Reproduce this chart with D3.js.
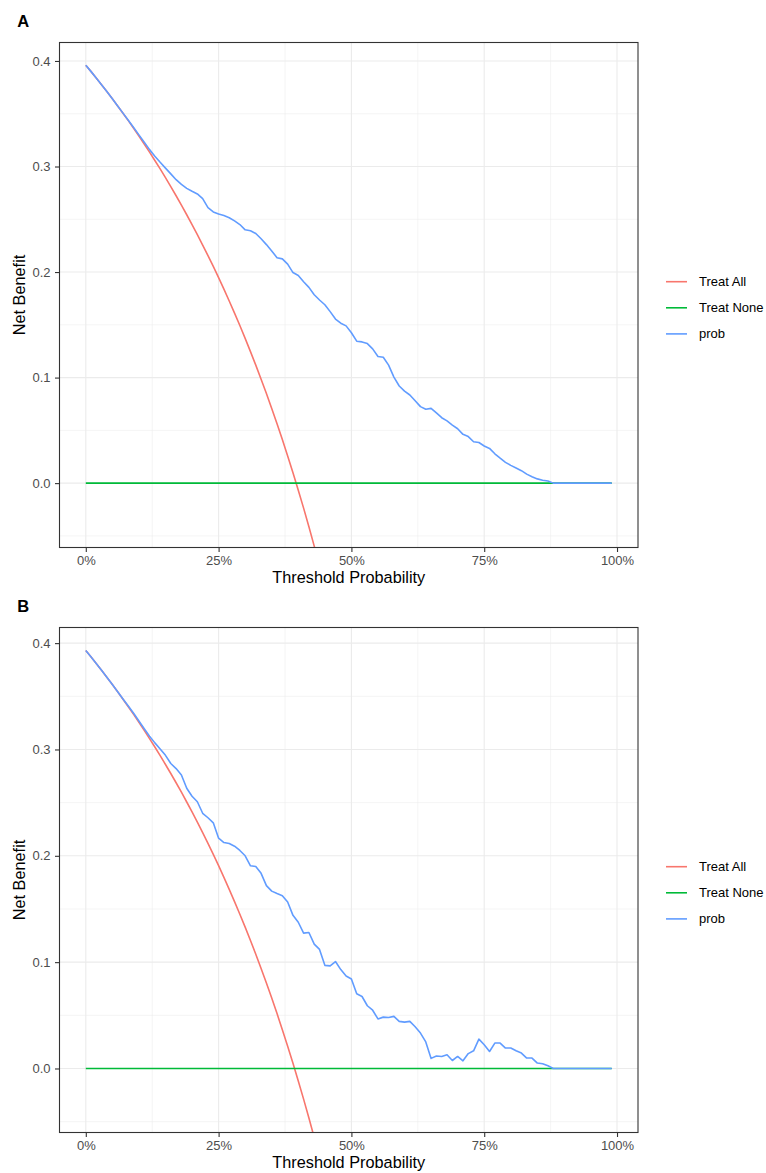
<!DOCTYPE html>
<html>
<head>
<meta charset="utf-8">
<script src="https://cdn.jsdelivr.net/npm/d3@7"></script>
<style>
  html, body { margin: 0; padding: 0; background: #ffffff; }
  svg { display: block; font-family: "Liberation Sans", Arial, Helvetica, sans-serif; }
</style>
</head>
<body>
<svg id="chart" width="766" height="1173"></svg>
<script>
// ---------------- data ----------------
const thresholds = [
  0.00,0.01,0.02,0.03,0.04,0.05,0.06,0.07,0.08,0.09,
  0.10,0.11,0.12,0.13,0.14,0.15,0.16,0.17,0.18,0.19,
  0.20,0.21,0.22,0.23,0.24,0.25,0.26,0.27,0.28,0.29,
  0.30,0.31,0.32,0.33,0.34,0.35,0.36,0.37,0.38,0.39,
  0.40,0.41,0.42,0.43,0.44,0.45,0.46,0.47,0.48,0.49,
  0.50,0.51,0.52,0.53,0.54,0.55,0.56,0.57,0.58,0.59,
  0.60,0.61,0.62,0.63,0.64,0.65,0.66,0.67,0.68,0.69,
  0.70,0.71,0.72,0.73,0.74,0.75,0.76,0.77,0.78,0.79,
  0.80,0.81,0.82,0.83,0.84,0.85,0.86,0.87,0.88,0.89,
  0.90,0.91,0.92,0.93,0.94,0.95,0.96,0.97,0.98,0.99
];

// Panel A
const treatAllA = [
  0.3960,0.3899,0.3837,0.3773,0.3708,0.3642,0.3574,0.3505,0.3435,0.3363,
  0.3289,0.3213,0.3136,0.3057,0.2977,0.2894,0.2810,0.2723,0.2634,0.2543,
  0.2450,0.2354,0.2256,0.2156,0.2053,0.1947,0.1838,0.1726,0.1611,0.1493,
  0.1371,0.1246,0.1118,0.0985,0.0849,0.0708,0.0563,0.0413,0.0258,0.0098,
  -0.0067,-0.0237,-0.0414,-0.0597,-0.0786,-0.0982
];
const probA = [
  0.3960,0.3899,0.3837,0.3773,0.3708,0.3642,0.3574,0.3506,0.3438,0.3370,
  0.3300,0.3230,0.3160,0.3098,0.3040,0.2985,0.2930,0.2875,0.2830,0.2793,
  0.2765,0.2740,0.2695,0.2610,0.2570,0.2550,0.2535,0.2515,0.2485,0.2450,
  0.2400,0.2392,0.2365,0.2315,0.2260,0.2200,0.2136,0.2125,0.2075,0.1995,
  0.1968,0.1908,0.1855,0.1785,0.1735,0.1690,0.1625,0.1555,0.1515,0.1490,
  0.1425,0.1345,0.1338,0.1322,0.1272,0.1200,0.1192,0.1118,0.1005,0.0920,
  0.0872,0.0835,0.0780,0.0725,0.0700,0.0708,0.0665,0.0620,0.0590,0.0550,
  0.0515,0.0462,0.0441,0.0392,0.0385,0.0352,0.0329,0.0278,0.0236,0.0197,
  0.0168,0.0143,0.0118,0.0085,0.0060,0.0040,0.0028,0.0020,0.0000,0.0000,
  0.0000,0.0000,0.0000,0.0000,0.0000,0.0000,0.0000,0.0000,0.0000,0.0000
];

// Panel B
const treatAllB = [
  0.3930,0.3869,0.3806,0.3742,0.3677,0.3611,0.3543,0.3473,0.3402,0.3330,
  0.3256,0.3180,0.3102,0.3023,0.2942,0.2859,0.2774,0.2687,0.2598,0.2506,
  0.2413,0.2317,0.2218,0.2117,0.2013,0.1907,0.1797,0.1685,0.1569,0.1451,
  0.1329,0.1203,0.1074,0.0940,0.0803,0.0662,0.0516,0.0365,0.0210,0.0049,
  -0.0117,-0.0288,-0.0466,-0.0649,-0.0839,-0.1036
];
const probB = [
  0.3930,0.3869,0.3806,0.3742,0.3677,0.3611,0.3543,0.3475,0.3408,0.3340,
  0.3268,0.3195,0.3125,0.3062,0.3005,0.2945,0.2868,0.2820,0.2760,0.2635,
  0.2560,0.2508,0.2400,0.2358,0.2310,0.2166,0.2125,0.2115,0.2090,0.2050,
  0.2000,0.1906,0.1900,0.1835,0.1720,0.1668,0.1645,0.1625,0.1565,0.1440,
  0.1375,0.1273,0.1279,0.1170,0.1120,0.0970,0.0965,0.1006,0.0930,0.0870,
  0.0842,0.0702,0.0677,0.0590,0.0548,0.0466,0.0483,0.0480,0.0490,0.0443,
  0.0436,0.0443,0.0392,0.0333,0.0250,0.0095,0.0118,0.0113,0.0129,0.0075,
  0.0113,0.0072,0.0140,0.0166,0.0276,0.0223,0.0160,0.0239,0.0239,0.0192,
  0.0192,0.0166,0.0145,0.0098,0.0098,0.0051,0.0044,0.0025,0.0000,0.0000,
  0.0000,0.0000,0.0000,0.0000,0.0000,0.0000,0.0000,0.0000,0.0000,0.0000
];

// Treat None (net benefit 0 across the threshold range)
const treatNoneX = [0.00, 0.99];
const treatNoneY = [0.0, 0.0];

const seriesNames = ["Treat All", "Treat None", "prob"];
const seriesColors = ["#F8766D", "#00BA38", "#619CFF"];
const xTicks = [0, 0.25, 0.5, 0.75, 1];
const xMinor = [0.125, 0.375, 0.625, 0.875];
const yTicks = [0.0, 0.1, 0.2, 0.3, 0.4];
const yMinor = [-0.05, 0.05, 0.15, 0.25, 0.35];
const xTitle = "Threshold Probability";
const yTitle = "Net Benefit";

// ---------------- drawing ----------------
const svg = d3.select("#chart");
const left = 59.5, right = 638;

function drawPanel(cfg) {
  const { label, top, bottom, yDomain, treatAll, prob, id } = cfg;
  const x = d3.scaleLinear().domain([-0.0495, 1.0395]).range([left, right]);
  const y = d3.scaleLinear().domain(yDomain).range([bottom, top]);
  const g = svg.append("g");

  // panel background
  g.append("rect").attr("x", left).attr("y", top)
    .attr("width", right - left).attr("height", bottom - top).attr("fill", "#ffffff");

  // clip
  svg.append("clipPath").attr("id", "clip" + id)
    .append("rect").attr("x", left).attr("y", top)
    .attr("width", right - left).attr("height", bottom - top);

  // minor grid
  g.selectAll(".gxm").data(xMinor).join("line")
    .attr("x1", d => x(d)).attr("x2", d => x(d)).attr("y1", top).attr("y2", bottom)
    .attr("stroke", "#EBEBEB").attr("stroke-width", 0.55);
  g.selectAll(".gym").data(yMinor).join("line")
    .attr("x1", left).attr("x2", right).attr("y1", d => y(d)).attr("y2", d => y(d))
    .attr("stroke", "#EBEBEB").attr("stroke-width", 0.55);
  // major grid
  g.selectAll(".gx").data(xTicks).join("line")
    .attr("x1", d => x(d)).attr("x2", d => x(d)).attr("y1", top).attr("y2", bottom)
    .attr("stroke", "#EBEBEB").attr("stroke-width", 1.1);
  g.selectAll(".gy").data(yTicks).join("line")
    .attr("x1", left).attr("x2", right).attr("y1", d => y(d)).attr("y2", d => y(d))
    .attr("stroke", "#EBEBEB").attr("stroke-width", 1.1);

  const line = d3.line().x(d => x(d[0])).y(d => y(d[1]));
  const lines = g.append("g").attr("clip-path", "url(#clip" + id + ")");
  const taData = treatAll.map((v, i) => [thresholds[i], v]);
  const tnData = treatNoneX.map((v, i) => [v, treatNoneY[i]]);
  const prData = prob.map((v, i) => [thresholds[i], v]);
  [taData, tnData, prData].forEach((dat, i) => {
    lines.append("path").datum(dat).attr("d", line)
      .attr("fill", "none").attr("stroke", seriesColors[i])
      .attr("stroke-width", 1.6).attr("stroke-linejoin", "round");
  });

  // panel border
  g.append("rect").attr("x", left).attr("y", top)
    .attr("width", right - left).attr("height", bottom - top)
    .attr("fill", "none").attr("stroke", "#333333").attr("stroke-width", 1.1);

  // axes
  const xAxis = g.append("g").attr("transform", `translate(0,${bottom})`)
    .call(d3.axisBottom(x).tickValues(xTicks).tickFormat(d3.format(".0%"))
      .tickSize(4.5).tickPadding(3.8));
  const yAxis = g.append("g").attr("transform", `translate(${left},0)`)
    .call(d3.axisLeft(y).tickValues(yTicks).tickFormat(d3.format(".1f"))
      .tickSize(4.5).tickPadding(4.5));
  [xAxis, yAxis].forEach(a => {
    a.select(".domain").remove();
    a.selectAll(".tick line").attr("stroke", "#333333").attr("stroke-width", 1.1);
    a.selectAll(".tick text").attr("fill", "#4D4D4D")
      .style("font-size", "13px").style("font-family", "'Liberation Sans', Arial, sans-serif");
  });

  // axis titles
  g.append("text").attr("x", (left + right) / 2).attr("y", bottom + 35.5)
    .attr("text-anchor", "middle").attr("fill", "#000000")
    .style("font-size", "16.3px").text(xTitle);
  g.append("text")
    .attr("transform", `translate(25,${(top + bottom) / 2}) rotate(-90)`)
    .attr("text-anchor", "middle").attr("fill", "#000000")
    .style("font-size", "16.3px").text(yTitle);

  // panel tag
  g.append("text").attr("x", 17.3).attr("y", top - 15.3)
    .attr("fill", "#000000").style("font-size", "16.5px").style("font-weight", "bold")
    .text(label);

  // legend
  const legY0 = top + 239.2;
  const leg = g.append("g");
  seriesNames.forEach((name, i) => {
    const yy = legY0 + i * 26.1;
    leg.append("line").attr("x1", 666).attr("x2", 687).attr("y1", yy).attr("y2", yy)
      .attr("stroke", seriesColors[i]).attr("stroke-width", 1.6);
    leg.append("text").attr("x", 699).attr("y", yy).attr("dy", "0.35em")
      .attr("fill", "#000000").style("font-size", "13px").text(name);
  });
}

drawPanel({ id: "A", label: "A", top: 42.5, bottom: 547.5, yDomain: [-0.061, 0.4175],
            treatAll: treatAllA, prob: probA });
drawPanel({ id: "B", label: "B", top: 627.5, bottom: 1132.5, yDomain: [-0.0602, 0.4147],
            treatAll: treatAllB, prob: probB });
</script>
</body>
</html>
